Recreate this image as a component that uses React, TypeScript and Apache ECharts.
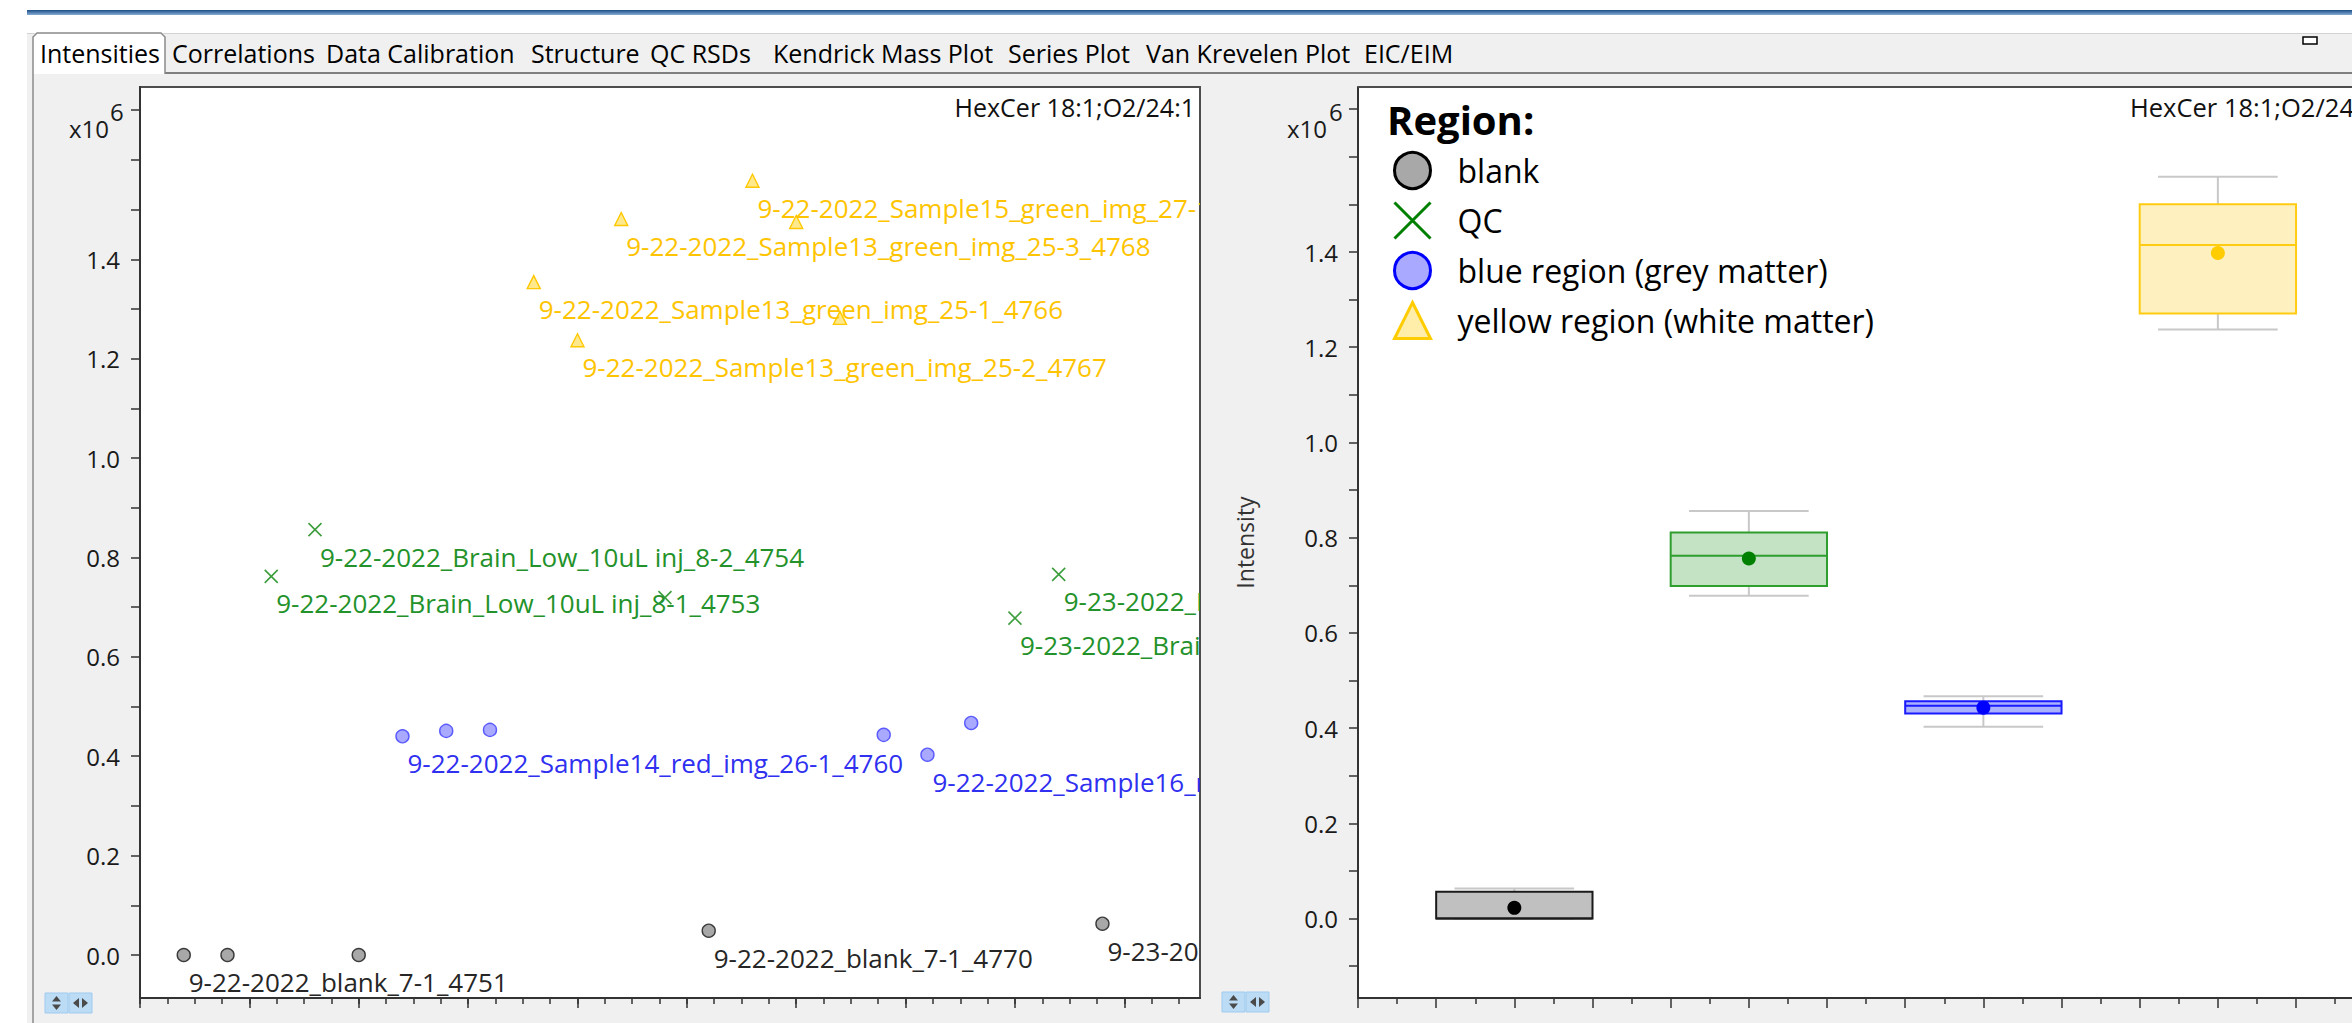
import { useEffect, useRef } from 'react';
import * as echarts from 'echarts';

const WIDTH = 2352;
const HEIGHT = 1023;
const FONT = '"Open Sans", "Noto Sans", "DejaVu Sans", sans-serif';

// ---------- UI texts ----------
const tabLabels = ['Intensities', 'Correlations', 'Data Calibration', 'Structure', 'QC RSDs', 'Kendrick Mass Plot', 'Series Plot', 'Van Krevelen Plot', 'EIC/EIM'];
const tabLeft = [40, 172, 326, 531, 650, 773, 1008, 1146, 1364];
const plotTitle = 'HexCer 18:1;O2/24:1';
const legendTitle = 'Region:';
const yAxisName = 'Intensity';

// ---------- data ----------
const regionNames = ['blank', 'QC', 'blue region (grey matter)', 'yellow region (white matter)'];
const sampleOrder = [1, 2, 3, 4, 5, 6, 7, 8, 9, 10, 11, 12, 13, 14, 15, 16, 17, 18, 19, 20, 21, 22];
const sampleRegion = [0, 0, 1, 1, 0, 2, 2, 2, 3, 3, 3, 1, 0, 3, 3, 3, 2, 2, 2, 1, 1, 0];
// intensity, x10^6
const sampleIntensity = [0, 0, 0.762, 0.856, 0, 0.44, 0.451, 0.453, 1.354, 1.237, 1.481, 0.719, 0.049, 1.558, 1.475, 1.282, 0.443, 0.403, 0.467, 0.678, 0.766, 0.063];
const sampleName = [
  '9-22-2022_blank_7-1_4751',
  '9-22-2022_blank_7-2_4752',
  '9-22-2022_Brain_Low_10uL inj_8-1_4753',
  '9-22-2022_Brain_Low_10uL inj_8-2_4754',
  '9-22-2022_blank_7-3_4755',
  '9-22-2022_Sample14_red_img_26-1_4760',
  '9-22-2022_Sample14_red_img_26-2_4761',
  '9-22-2022_Sample14_red_img_26-3_4762',
  '9-22-2022_Sample13_green_img_25-1_4766',
  '9-22-2022_Sample13_green_img_25-2_4767',
  '9-22-2022_Sample13_green_img_25-3_4768',
  '9-22-2022_Brain_Low_10uL inj_8-3_4769',
  '9-22-2022_blank_7-1_4770',
  '9-22-2022_Sample15_green_img_27-1_4771',
  '9-22-2022_Sample15_green_img_27-2_4772',
  '9-22-2022_Sample15_green_img_27-3_4773',
  '9-22-2022_Sample16_red_img_28-1_4774',
  '9-22-2022_Sample16_red_img_28-2_4775',
  '9-22-2022_Sample16_red_img_28-3_4776',
  '9-23-2022_Brain_Low_10uL inj_8-1_4777',
  '9-23-2022_Brain_Low_10uL inj_8-2_4778',
  '9-23-2022_blank_7-1_4779',
];
const sampleLabelVisible = [1, 0, 1, 1, 0, 1, 0, 0, 1, 1, 1, 0, 1, 1, 0, 0, 0, 1, 0, 1, 1, 1];
const boxPosition = [2, 5, 8, 11];

// ---------- axis ticks ----------
const yLabelValues = [0, 0.2, 0.4, 0.6, 0.8, 1.0, 1.2, 1.4];
const leftYTicks = [0, 0.1, 0.2, 0.3, 0.4, 0.5, 0.6, 0.7, 0.8, 0.9, 1.0, 1.1, 1.2, 1.3, 1.4, 1.5, 1.6, 1.7];
const rightYTicks = [-0.1, 0, 0.1, 0.2, 0.3, 0.4, 0.5, 0.6, 0.7, 0.8, 0.9, 1.0, 1.1, 1.2, 1.3, 1.4, 1.5, 1.6, 1.7];
const leftXMajor = [0, 2.5, 5, 7.5, 10, 12.5, 15, 17.5, 20, 22.5];
const leftXMinor = Array.from({ length: 39 }, (_, i) => i * 0.625);
const rightXMajor = [0, 1, 2, 3, 4, 5, 6, 7, 8, 9, 10, 11, 12];
const rightXMinor = [0.5, 1.5, 2.5, 3.5, 4.5, 5.5, 6.5, 7.5, 8.5, 9.5, 10.5, 11.5, 12.5];

// ---------- styles ----------
const pointSymbol = ['circle', 'path://M0,0L10,10M10,0L0,10', 'circle', 'triangle'];
const pointFill = ['#a8a8a8', 'rgba(0,0,0,0)', '#a9a9ff', '#ffe98c'];
const pointStroke = ['#3a3a3a', '#3d9e3d', '#5a5aff', '#ffc800'];
const labelColor = ['#262626', '#23922a', '#3030f0', '#ffc400'];
const boxFill = ['#c0c0c0', '#c4e2c4', '#aab1ff', '#fff0c0'];
const boxStroke = ['#1a1a1a', '#2e9e2e', '#1a1aff', '#ffcc11'];
const meanColor = ['#000000', '#008000', '#0000ff', '#ffcc00'];

function quantile(sorted: number[], p: number) {
  const n = sorted.length;
  const pos = (n + 1) * p;
  const lo = Math.floor(pos);
  const frac = pos - lo;
  if (lo < 1) return sorted[0];
  if (lo >= n) return sorted[n - 1];
  return sorted[lo - 1] + frac * (sorted[lo] - sorted[lo - 1]);
}

function boxStats() {
  return regionNames.map((_, k) => {
    const vals = sampleIntensity.filter((_, i) => sampleRegion[i] === k).sort((a, b) => a - b);
    const mean = vals.reduce((s, v) => s + v, 0) / vals.length;
    return [boxPosition[k], vals[0], quantile(vals, 0.25), quantile(vals, 0.5), quantile(vals, 0.75), vals[vals.length - 1], mean, k];
  });
}

function txt(text: string, x: number, y: number, size: number, opts: any = {}) {
  return {
    type: 'text', x, y, z: 20, silent: true,
    style: {
      text, fontSize: size, fontFamily: FONT, fill: opts.fill || '#000', fontWeight: opts.weight || 'normal',
      align: opts.align || 'left', textAlign: opts.align || 'left', verticalAlign: 'middle', textVerticalAlign: 'middle',
    },
  };
}

function arrowIcon(x: number, y: number) {
  const f = '#bcdcf6', s = '#9fcbef', g = '#4a4a4a';
  return [
    { type: 'rect', z: 20, silent: true, shape: { x, y, width: 23, height: 20 }, style: { fill: f, stroke: s, lineWidth: 1 } },
    { type: 'rect', z: 20, silent: true, shape: { x: x + 24, y, width: 23, height: 20 }, style: { fill: f, stroke: s, lineWidth: 1 } },
    { type: 'polygon', z: 21, silent: true, shape: { points: [[x + 11.5, y + 3], [x + 16, y + 8.5], [x + 7, y + 8.5]] }, style: { fill: g } },
    { type: 'polygon', z: 21, silent: true, shape: { points: [[x + 7, y + 11.5], [x + 16, y + 11.5], [x + 11.5, y + 17]] }, style: { fill: g } },
    { type: 'polygon', z: 21, silent: true, shape: { points: [[x + 28, y + 10], [x + 34, y + 5], [x + 34, y + 15]] }, style: { fill: g } },
    { type: 'polygon', z: 21, silent: true, shape: { points: [[x + 37, y + 5], [x + 43, y + 10], [x + 37, y + 15]] }, style: { fill: g } },
  ];
}

function buildOption() {
  const axisColor = '#333333';
  const tickStyle = { color: axisColor, width: 1.5 };
  const tabTop = 33;

  const graphics: any[] = [
    // blue top line
    { type: 'rect', z: -10, silent: true, shape: { x: 27, y: 10, width: WIDTH - 27, height: 5 },
      style: { fill: new echarts.graphic.LinearGradient(0, 0, 0, 1, [{ offset: 0, color: '#1b4e86' }, { offset: 1, color: '#86acd4' }]) } },
    // tab strip + content background
    { type: 'rect', z: -10, silent: true, shape: { x: 27, y: tabTop, width: WIDTH - 27, height: HEIGHT - tabTop }, style: { fill: '#f0f0f0' } },
    { type: 'line', z: -9, silent: true, shape: { x1: 27, y1: tabTop + 0.5, x2: WIDTH, y2: tabTop + 0.5 }, style: { stroke: '#d2d2d2', lineWidth: 1 } },
    { type: 'line', z: -9, silent: true, shape: { x1: 165, y1: 73, x2: WIDTH, y2: 73 }, style: { stroke: '#7f7f7f', lineWidth: 2 } },
    // selected tab
    { type: 'rect', z: -8, silent: true, shape: { x: 33, y: tabTop, width: 132, height: 74 - tabTop, r: [4, 4, 0, 0] }, style: { fill: '#ffffff' } },
    { type: 'polyline', z: -7, silent: true, shape: { points: [[33, HEIGHT], [33, tabTop + 4], [37, tabTop], [161, tabTop], [165, tabTop + 4], [165, 74]] }, style: { stroke: '#8a8a8a', lineWidth: 1.5, fill: null } },
    // window icon top right
    { type: 'rect', z: 20, silent: true, shape: { x: 2303, y: 37, width: 14, height: 7 }, style: { fill: '#ffffff', stroke: '#000000', lineWidth: 1.5 } },
    ...tabLabels.map((t, i) => txt(t, tabLeft[i], 53, 25)),
    ...arrowIcon(45, 993),
    ...arrowIcon(1222, 992),
    // right plot top border (right edge lies outside the window)
    { type: 'line', z: 20, silent: true, shape: { x1: 1358, y1: 87, x2: WIDTH, y2: 87 }, style: { stroke: '#4d4d4d', lineWidth: 2 } },
    // plot titles
    txt(plotTitle, 1195, 107, 25, { align: 'right', fill: '#111' }),
    txt(plotTitle, 2130, 107, 25.5, { fill: '#111' }),
    // axis multipliers
    txt('x10', 109, 128.5, 24, { align: 'right', fill: '#1a1a1a' }),
    txt('6', 110, 111, 24, { fill: '#1a1a1a' }),
    txt('x10', 1327, 128.5, 24, { align: 'right', fill: '#1a1a1a' }),
    txt('6', 1329, 111, 24, { fill: '#1a1a1a' }),
    // legend title
    txt(legendTitle, 1387, 119, 40, { weight: 'bold' }),
  ];

  const scatterSeries = regionNames.map((name, k) => ({
    type: 'scatter', name, xAxisIndex: 0, yAxisIndex: 0, z: 3,
    symbol: pointSymbol[k], symbolSize: 13,
    itemStyle: { color: pointFill[k], borderColor: pointStroke[k], borderWidth: k === 1 ? 1.6 : 1.4, opacity: 1 },
    emphasis: { disabled: true },
    data: sampleOrder.map((x, i) => (sampleRegion[i] === k ? [x, sampleIntensity[i]] : null)).filter((d) => d !== null),
  }));

  const labelSeries = {
    type: 'custom', xAxisIndex: 0, yAxisIndex: 0, z: 4, clip: true, silent: true,
    data: sampleOrder.map((x, i) => [x, sampleIntensity[i], i]).filter((_, i) => sampleLabelVisible[i] === 1),
    renderItem: (_params: any, api: any) => {
      const idx = api.value(2);
      const p = api.coord([api.value(0), api.value(1)]);
      return {
        type: 'text', x: p[0] + 5, y: p[1] + 27,
        style: {
          text: sampleName[idx], fill: labelColor[sampleRegion[idx]], fontSize: 26, fontFamily: FONT,
          align: 'left', textAlign: 'left', verticalAlign: 'middle', textVerticalAlign: 'middle',
        },
      };
    },
  };

  const boxSeries = {
    type: 'custom', xAxisIndex: 2, yAxisIndex: 1, z: 3, silent: true,
    data: boxStats(),
    renderItem: (_params: any, api: any) => {
      const x = api.value(0);
      const k = api.value(7);
      const pMin = api.coord([x, api.value(1)]);
      const pQ1 = api.coord([x, api.value(2)]);
      const pMed = api.coord([x, api.value(3)]);
      const pQ3 = api.coord([x, api.value(4)]);
      const pMax = api.coord([x, api.value(5)]);
      const pMean = api.coord([x, api.value(6)]);
      const halfBox = api.size([2, 0])[0] / 2;
      const halfCap = api.size([1.53, 0])[0] / 2;
      const cx = pMed[0];
      const ws = { stroke: '#c8c8c8', lineWidth: 2 };
      return {
        type: 'group',
        children: [
          { type: 'line', shape: { x1: cx, y1: pQ3[1], x2: cx, y2: pMax[1] }, style: ws },
          { type: 'line', shape: { x1: cx, y1: pQ1[1], x2: cx, y2: pMin[1] }, style: ws },
          { type: 'line', shape: { x1: cx - halfCap, y1: pMax[1], x2: cx + halfCap, y2: pMax[1] }, style: ws },
          { type: 'line', shape: { x1: cx - halfCap, y1: pMin[1], x2: cx + halfCap, y2: pMin[1] }, style: ws },
          { type: 'rect', shape: { x: cx - halfBox, y: pQ3[1], width: halfBox * 2, height: pQ1[1] - pQ3[1] },
            style: { fill: boxFill[k], stroke: boxStroke[k], lineWidth: 2 } },
          { type: 'line', shape: { x1: cx - halfBox, y1: pMed[1], x2: cx + halfBox, y2: pMed[1] }, style: { stroke: boxStroke[k], lineWidth: 2 } },
          { type: 'circle', shape: { cx: pMean[0], cy: pMean[1], r: 7 }, style: { fill: meanColor[k] } },
        ],
      };
    },
  };

  const xAxisBase = (gridIndex: number, max: number, values: number[], len: number, line: boolean) => ({
    type: 'value', gridIndex, position: 'bottom', min: 0, max,
    axisLine: { show: line, onZero: false, lineStyle: { color: axisColor, width: 2 } },
    axisTick: { show: true, length: len, customValues: values, lineStyle: tickStyle },
    axisLabel: { show: false }, splitLine: { show: false },
  });

  const yAxisBase = (gridIndex: number, min: number, ticks: number[]) => ({
    type: 'value', gridIndex, min, max: 1.7466,
    axisLine: { show: true, onZero: false, lineStyle: { color: axisColor, width: 2 } },
    axisTick: { show: true, length: 9, customValues: ticks, lineStyle: tickStyle },
    axisLabel: { show: true, customValues: yLabelValues, formatter: (v: number) => v.toFixed(1), fontSize: 24, fontFamily: FONT, color: '#1a1a1a', margin: 20 },
    splitLine: { show: false },
  });

  const rightWidth = WIDTH - 1358;
  const rightMax = rightWidth / 78.17;

  return {
    animation: false,
    backgroundColor: '#ffffff',
    textStyle: { fontFamily: FONT },
    graphic: { elements: graphics },
    grid: [
      { left: 140, top: 87, width: 1060, height: 911, show: true, backgroundColor: '#ffffff', borderColor: '#4d4d4d', borderWidth: 2 },
      { left: 1358, top: 87, width: rightWidth, height: 911, show: true, backgroundColor: '#ffffff', borderWidth: 0 },
    ],
    xAxis: [
      xAxisBase(0, 24.23, leftXMajor, 10, true),
      xAxisBase(0, 24.23, leftXMinor, 6, false),
      xAxisBase(1, rightMax, rightXMajor, 10, true),
      xAxisBase(1, rightMax, rightXMinor, 6, false),
    ],
    yAxis: [
      yAxisBase(0, -0.0865, leftYTicks),
      { ...yAxisBase(1, -0.167, rightYTicks), name: yAxisName, nameLocation: 'middle', nameGap: 102,
        nameTextStyle: { fontSize: 23, fontFamily: FONT, color: '#333333' } },
    ],
    legend: {
      orient: 'vertical', left: 1388, top: 146, itemWidth: 36, itemHeight: 36, itemGap: 11,
      selectedMode: false,
      textStyle: { fontSize: 32, fontFamily: FONT, color: '#000000', padding: [0, 0, 0, 22] },
      data: [
        { name: regionNames[0], icon: 'circle', itemStyle: { color: '#a8a8a8', borderColor: '#000000', borderWidth: 3 } },
        { name: regionNames[1], icon: 'path://M0,0L10,10M10,0L0,10', itemStyle: { color: 'rgba(0,0,0,0)', borderColor: '#008000', borderWidth: 3 } },
        { name: regionNames[2], icon: 'circle', itemStyle: { color: '#a9a9ff', borderColor: '#0000ff', borderWidth: 3 } },
        { name: regionNames[3], icon: 'triangle', itemStyle: { color: '#ffeeaa', borderColor: '#ffcc00', borderWidth: 3 } },
      ],
    },
    series: [...scatterSeries, labelSeries, boxSeries],
  };
}

export default function App() {
  const ref = useRef<HTMLDivElement>(null);
  useEffect(() => {
    if (!ref.current) return;
    document.body.style.margin = '0';
    document.body.style.overflow = 'hidden';
    const chart = echarts.init(ref.current, null, { renderer: 'svg', width: WIDTH, height: HEIGHT });
    chart.setOption(buildOption() as any);
    return () => chart.dispose();
  }, []);
  return <div ref={ref} style={{ position: 'fixed', left: 0, top: 0, width: WIDTH, height: HEIGHT }} />;
}
